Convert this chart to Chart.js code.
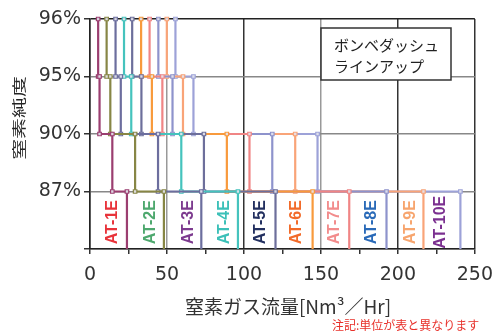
<!DOCTYPE html>
<html>
<head>
<meta charset="utf-8">
<style>
  html, body { margin: 0; padding: 0; background: #fff; }
  #wrap { width: 503px; height: 331px; }
</style>
</head>
<body>
<div id="wrap"><canvas id="chart" width="503" height="331"></canvas></div>
<script src="https://cdn.jsdelivr.net/npm/chart.js@4/dist/chart.umd.min.js"></script>
<script>
// Data
const models = ['AT-1E', 'AT-2E', 'AT-3E', 'AT-4E', 'AT-5E', 'AT-6E', 'AT-7E', 'AT-8E', 'AT-9E', 'AT-10E'];
const purityLabels = ['87%', '90%', '95%', '96%'];   // y index 1..4
const flow96 = [5.3, 10.8, 16.6, 22.1, 27.4, 33.2, 38.7, 44.4, 49.9, 55.5];
const flow95 = [6.2, 13.2, 20.0, 26.8, 33.4, 40.2, 47.0, 53.6, 60.4, 67.2];
const flow90 = [14.5, 29.3, 44.2, 59.3, 74.0, 88.9, 103.6, 118.4, 133.3, 147.8];
const flow87 = [24.0, 48.0, 72.3, 96.1, 120.5, 144.6, 168.4, 192.6, 216.6, 240.6];
const labelFlow = [14.7, 39.2, 63.8, 87.4, 111.0, 133.9, 158.8, 183.0, 208.5, 227.7];

const lineColors = ['#9b3e70', '#878645', '#6c6e9e', '#45c3bd', '#6d6f9b', '#f89a3c', '#f08585', '#8e93cc', '#f9a478', '#9da2d8'];
const labelColors = ['#e8333a', '#4ea86e', '#7d3b8f', '#3cc0b8', '#233060', '#f26b2a', '#f28c8c', '#2a6ab8', '#f7a56e', '#7b3090'];

const tickFont = { family: 'DejaVu Sans', size: 19 };
const jpFont = '"Noto Sans CJK JP"';

// each model: step down from 96% to 87%, then drop to the axis
const datasets = models.map((m, i) => ({
    label: m,
    data: [
        { x: flow96[i], y: 4 }, { x: flow96[i], y: 3 },
        { x: flow95[i], y: 3 }, { x: flow95[i], y: 2 },
        { x: flow90[i], y: 2 }, { x: flow90[i], y: 1 },
        { x: flow87[i], y: 1 }, { x: flow87[i], y: 0 }
    ],
    showLine: true,
    borderColor: lineColors[i],
    borderWidth: 2.2,
    tension: 0,
    pointStyle: 'rect',
    pointRadius: [2.5, 2.5, 2.5, 2.5, 2.5, 2.5, 2.5, 0],
    pointBorderColor: lineColors[i],
    pointBackgroundColor: 'rgba(230,230,238,0.9)',
    pointBorderWidth: 1.2,
    clip: false
}));

// titles, model names, legend box, note
const textPlugin = {
    id: 'texts',
    afterDraw(chart) {
        const ctx = chart.ctx;
        const xs = chart.scales.x, ys = chart.scales.y;
        ctx.save();

        // y title (flat, wide glyphs)
        ctx.save();
        ctx.translate(19, 118);
        ctx.rotate(-Math.PI / 2);
        ctx.scale(1.55, 1);
        ctx.font = '13.5px ' + jpFont;
        ctx.fillStyle = '#222';
        ctx.textAlign = 'center';
        ctx.textBaseline = 'middle';
        ctx.fillText('窒素純度', 0, 0);
        ctx.restore();

        // x title
        ctx.font = '19px ' + jpFont;
        ctx.fillStyle = '#333';
        ctx.textAlign = 'center';
        ctx.textBaseline = 'middle';
        ctx.fillText('窒素ガス流量[Nm³／Hr]', 288, 307);

        // model labels, rotated
        const ly = (ys.getPixelForValue(0) + ys.getPixelForValue(1)) / 2 + 2;
        models.forEach((m, i) => {
            ctx.save();
            ctx.translate(xs.getPixelForValue(labelFlow[i]), ly);
            ctx.rotate(-Math.PI / 2);
            ctx.font = 'bold 16px "Liberation Sans"';
            ctx.fillStyle = labelColors[i];
            ctx.textAlign = 'center';
            ctx.textBaseline = 'middle';
            ctx.fillText(m, 0, 0);
            ctx.restore();
        });

        // legend box
        ctx.fillStyle = '#fff';
        ctx.fillRect(321, 28, 130, 52);
        ctx.strokeStyle = '#333';
        ctx.lineWidth = 1.5;
        ctx.strokeRect(321, 28, 130, 52);
        ctx.font = '15px ' + jpFont;
        ctx.fillStyle = '#222';
        ctx.textAlign = 'left';
        ctx.textBaseline = 'middle';
        ctx.fillText('ボンベダッシュ', 334, 45);
        ctx.fillText('ラインアップ', 334, 66);

        // note
        ctx.font = '12px ' + jpFont;
        ctx.fillStyle = '#e8302a';
        ctx.textBaseline = 'alphabetic';
        ctx.fillText('注記:単位が表と異なります', 332, 330);

        ctx.restore();
    }
};

new Chart(document.getElementById('chart'), {
    type: 'scatter',
    data: { datasets: datasets },
    options: {
        responsive: false,
        animation: false,
        layout: { padding: { top: 19, right: 21, left: 0, bottom: 0 } },
        plugins: { legend: { display: false }, tooltip: { enabled: false } },
        scales: {
            x: {
                type: 'linear',
                min: 0,
                max: 250,
                afterFit: s => { s.height = 82; },
                ticks: {
                    stepSize: 25,
                    autoSkip: false,
                    maxRotation: 0,
                    padding: 10,
                    color: '#333',
                    font: tickFont,
                    callback: v => (v % 50 === 0 ? v : '')
                },
                grid: {
                    lineWidth: 1.5,
                    tickLength: 5,
                    tickColor: '#333',
                    color: c => {
                        const v = c.tick ? c.tick.value : 0;
                        if (v % 50 !== 0) return 'rgba(0,0,0,0)';
                        if (v === 50 || v === 150) return '#999';
                        return '#333';
                    }
                },
                border: { color: '#222', width: 1.5 }
            },
            y: {
                min: 0,
                max: 4,
                afterFit: s => { s.width = 90; },
                ticks: {
                    stepSize: 1,
                    padding: 3,
                    color: '#333',
                    font: tickFont,
                    callback: v => purityLabels[v - 1] || ''
                },
                grid: {
                    lineWidth: 1.5,
                    tickLength: 6,
                    tickColor: '#333',
                    color: c => (c.tick && c.tick.value === 4 ? '#222' : '#888')
                },
                border: { color: '#222', width: 1.5 }
            }
        }
    },
    plugins: [textPlugin]
});
</script>
</body>
</html>
